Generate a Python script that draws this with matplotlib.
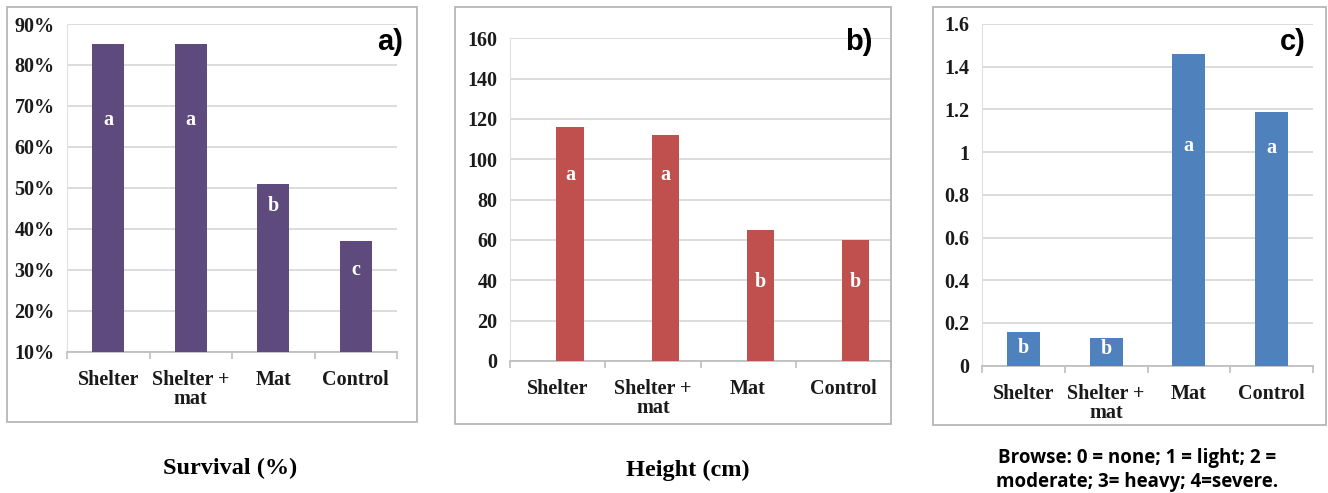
import matplotlib
matplotlib.use("Agg")
import matplotlib.pyplot as plt
from matplotlib.patches import Rectangle
import numpy as np

categories = ["Shelter", "Shelter +\nmat", "Mat", "Control"]

survival = [85, 85, 51, 37]
survival_letters = ["a", "a", "b", "c"]
survival_letter_y = [66.5, 66.5, 45.5, 30]

height = [116, 112, 65, 60]
height_letters = ["a", "a", "b", "b"]
height_letter_y = [92, 92, 39, 39]

browse = [0.16, 0.13, 1.46, 1.19]
browse_letters = ["b", "b", "a", "a"]
browse_letter_y = [0.083, 0.08, 1.03, 1.02]

W, H = 1328, 493
fig = plt.figure(figsize=(W / 100, H / 100), dpi=100)

SERIF = ["Liberation Serif", "DejaVu Serif"]
SANS = ["Liberation Sans", "DejaVu Sans"]
GRID = "#d9d9d9"
AX = "#bfbfbf"
TFS = 14.5


def fx(px):
    return px / W


def fy(py):
    return 1 - py / H


def frame(x0, y0, x1, y1):
    fig.patches.append(Rectangle((fx(x0), fy(y1)), fx(x1) - fx(x0), fy(y0) - fy(y1),
                                 transform=fig.transFigure, fill=False,
                                 edgecolor="#b0b0b0", linewidth=1.2, zorder=0))


def panel(rect, values, letters, letter_y, color, ylim, yticks, yfmt, width,
          offset, tag, tag_xy):
    x0, y0, x1, y1 = rect
    ax = fig.add_axes([fx(x0), fy(y1), fx(x1) - fx(x0), fy(y0) - fy(y1)])
    x = np.arange(len(categories))
    ax.bar(x + offset, values, width=width, color=color, zorder=3)
    for xi, lt, ly in zip(x, letters, letter_y):
        ax.text(xi + offset, ly, lt, ha="center", va="center", color="white",
                family=SERIF, fontweight="bold", fontsize=14.5, zorder=4)
    ax.set_xlim(-0.5, len(categories) - 0.5)
    ax.set_ylim(*ylim)
    ax.set_yticks(yticks)
    ax.set_yticklabels([yfmt(v) for v in yticks], family=SERIF,
                       fontweight="bold", fontsize=TFS, color="#1a1a1a")
    ax.set_xticks(x)
    ax.set_xticklabels(categories, family=SERIF, fontweight="bold",
                       fontsize=TFS, color="#1a1a1a", linespacing=0.95)
    ax.set_xticks(np.arange(-0.5, len(categories)), minor=True)
    ax.tick_params(axis="x", which="major", length=0, pad=13)
    ax.tick_params(axis="x", which="minor", length=5, color=AX, width=1.2,
                   direction="out")
    ax.tick_params(axis="y", length=0, pad=9)
    ax.grid(axis="y", color=GRID, linewidth=1.3, zorder=0)
    ax.set_axisbelow(True)
    for s in ["top", "right"]:
        ax.spines[s].set_visible(False)
    ax.spines["left"].set_color("#e0e0e0")
    ax.spines["bottom"].set_color(AX)
    ax.spines["bottom"].set_linewidth(1.3)
    fig.text(fx(tag_xy[0]), fy(tag_xy[1]), tag, ha="center", va="center",
             family=SANS, fontweight="bold", fontsize=21)
    return ax


# Panel a
frame(7, 7, 417, 422)
panel((67, 24, 397, 351.7), survival, survival_letters, survival_letter_y,
      "#5f4a7e", (10, 90), list(range(10, 91, 10)), lambda v: f"{v}%",
      0.39, 0.0, "a)", (390, 42))
fig.text(fx(230), fy(468), "Survival (%)", ha="center", va="center",
         family=SERIF, fontweight="bold", fontsize=17.5)

# Panel b
frame(455, 7, 891, 424)
panel((510, 38.3, 891, 361), height, height_letters, height_letter_y,
      "#c0504d", (0, 160), list(range(0, 161, 20)), lambda v: f"{v}",
      0.285, 0.13, "b)", (859, 42))
fig.text(fx(688), fy(470), "Height (cm)", ha="center", va="center",
         family=SERIF, fontweight="bold", fontsize=17.5)

# Panel c
frame(933, 7, 1326, 425)
panel((982, 24, 1313, 365.7), browse, browse_letters, browse_letter_y,
      "#4f81bd", (0, 1.6), [0, 0.2, 0.4, 0.6, 0.8, 1.0, 1.2, 1.4, 1.6],
      lambda v: f"{v:g}", 0.40, 0.0, "c)", (1293, 42))
fig.text(fx(1137), fy(470), "Browse: 0 = none; 1 = light; 2 =\nmoderate; 3= heavy; 4=severe.",
         ha="center", va="center", family=["Open Sans", "DejaVu Sans"],
         fontweight="bold", fontsize=13.5, linespacing=1.3)

fig.savefig("out.png", dpi=100)
